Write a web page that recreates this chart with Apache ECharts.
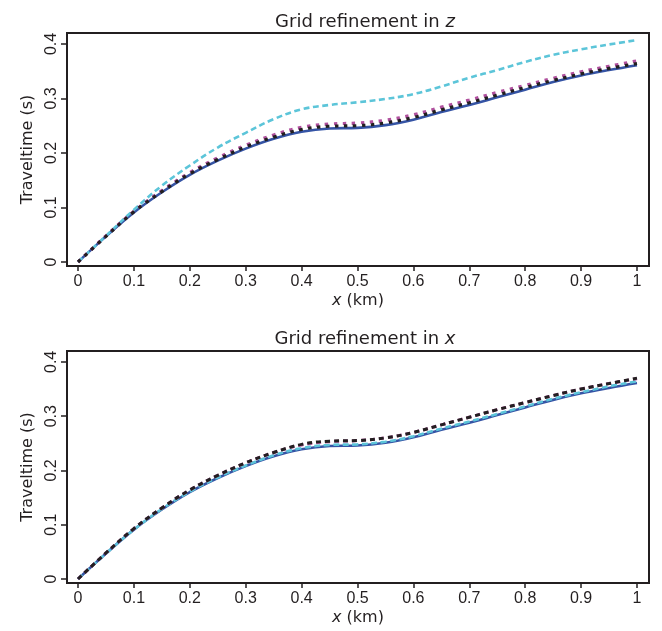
<!DOCTYPE html>
<html>
<head>
<meta charset="utf-8">
<script src="https://cdn.jsdelivr.net/npm/echarts@6/dist/echarts.min.js"></script>
<style>
html,body{margin:0;padding:0;background:#fff;}
#c{width:662px;height:631px;}
</style>
</head>
<body>
<div id="c"></div>
<script>
// ---- data ----
const xs = [0,0.05,0.1,0.15,0.2,0.25,0.3,0.35,0.4,0.45,0.5,0.55,0.6,0.65,0.7,0.75,0.8,0.85,0.9,0.95,1];

// Top panel: grid refinement in z
const blueZ    = [0,0.047,0.091,0.128,0.160,0.186,0.208,0.226,0.239,0.245,0.246,0.251,0.261,0.275,0.288,0.302,0.316,0.330,0.342,0.352,0.361];
const cyanZ    = [0,0.048,0.096,0.140,0.177,0.210,0.237,0.262,0.280,0.288,0.293,0.299,0.308,0.322,0.338,0.352,0.367,0.380,0.390,0.399,0.407];
const magentaZ = [0,0.048,0.093,0.131,0.164,0.191,0.214,0.233,0.247,0.253,0.255,0.260,0.270,0.284,0.297,0.311,0.324,0.337,0.349,0.359,0.369];
const blackZ   = [0,0.047,0.092,0.129,0.162,0.188,0.211,0.229,0.243,0.249,0.250,0.255,0.265,0.279,0.292,0.306,0.320,0.333,0.345,0.355,0.364];

// Bottom panel: grid refinement in x
const blueX    = [0,0.047,0.091,0.128,0.160,0.186,0.208,0.226,0.239,0.245,0.246,0.251,0.261,0.275,0.288,0.302,0.316,0.330,0.342,0.352,0.361];
const cyanX    = [0,0.047,0.091,0.129,0.161,0.187,0.209,0.228,0.241,0.247,0.248,0.253,0.263,0.277,0.290,0.304,0.318,0.332,0.344,0.355,0.364];
const magentaX = [0,0.048,0.093,0.131,0.164,0.191,0.214,0.233,0.247,0.253,0.255,0.260,0.270,0.284,0.298,0.312,0.325,0.338,0.350,0.360,0.369];
const blackX   = [0,0.048,0.093,0.131,0.164,0.191,0.214,0.233,0.248,0.254,0.255,0.260,0.270,0.284,0.298,0.312,0.325,0.338,0.350,0.360,0.370];

const xTicks = [0,0.1,0.2,0.3,0.4,0.5,0.6,0.7,0.8,0.9,1];
const yTicks = [0,0.1,0.2,0.3,0.4];
const titles = ['Grid refinement in ', 'Grid refinement in '];
const titleVars = ['z', 'x'];

// ---- chart ----
const pairs = ys => xs.map((x,i)=>[x, ys[i]]);
const FONT = 'DejaVu Sans';
const TICKFONT = 'Liberation Sans';
const INK = '#231f20';
const C = {blue:'#3554a5', cyan:'#5cc5d9', magenta:'#b0509e', black:'#231f20'};

function xAxisDef(gi){
  return {
    type:'value', gridIndex:gi, min:-0.0197, max:1.0215,
    axisLine:{show:false, onZero:false},
    splitLine:{show:false},
    axisTick:{show:true, customValues:xTicks, length:5, lineStyle:{color:INK, width:1.5}},
    axisLabel:{customValues:xTicks, margin:8, color:INK, fontFamily:TICKFONT, fontSize:16},
    name:'{i|x} (km)', nameLocation:'middle', nameGap:27,
    nameTextStyle:{color:INK, fontFamily:FONT, fontSize:16, rich:{i:{fontStyle:'italic', fontFamily:FONT, fontSize:16, color:INK}}}
  };
}
function yAxisDef(gi){
  return {
    type:'value', gridIndex:gi, min:-0.0073, max:0.42,
    axisLine:{show:false, onZero:false},
    splitLine:{show:false},
    axisTick:{show:true, customValues:yTicks, length:6, lineStyle:{color:INK, width:1.5}},
    axisLabel:{customValues:yTicks, margin:7, rotate:90, color:INK, fontFamily:TICKFONT, fontSize:16},
    name:'Traveltime (s)', nameLocation:'middle', nameGap:29,
    nameTextStyle:{color:INK, fontFamily:FONT, fontSize:16}
  };
}
function ser(gi, ys, color, width, type, z){
  return {
    type:'line', xAxisIndex:gi, yAxisIndex:gi, data:pairs(ys), smooth:0.4,
    showSymbol:false, symbol:'none', z:z,
    lineStyle:{color:color, width:width, type:type, cap:'butt'}
  };
}

const chart = echarts.init(document.getElementById('c'), null, {renderer:'canvas'});
chart.setOption({
  animation:false,
  backgroundColor:'#ffffff',
  title:[
    {text:titles[0]+'{i|'+titleVars[0]+'}', left:360, top:8, textAlign:'center',
     textStyle:{color:INK, fontFamily:FONT, fontSize:18, fontWeight:'normal', rich:{i:{fontStyle:'italic', fontFamily:FONT, fontSize:18, color:INK}}}},
    {text:titles[1]+'{i|'+titleVars[1]+'}', left:360, top:325, textAlign:'center',
     textStyle:{color:INK, fontFamily:FONT, fontSize:18, fontWeight:'normal', rich:{i:{fontStyle:'italic', fontFamily:FONT, fontSize:18, color:INK}}}}
  ],
  grid:[
    {left:67, top:33, width:582, height:233, show:true, borderColor:INK, borderWidth:2, backgroundColor:'transparent'},
    {left:67, top:351, width:582, height:232, show:true, borderColor:INK, borderWidth:2, backgroundColor:'transparent'}
  ],
  xAxis:[xAxisDef(0), xAxisDef(1)],
  yAxis:[yAxisDef(0), yAxisDef(1)],
  series:[
    ser(0, blueZ, C.blue, 2.6, 'solid', 2),
    ser(0, cyanZ, C.cyan, 2.6, [6,3.5], 3),
    ser(0, magentaZ, C.magenta, 3.2, [3.5,5.5], 4),
    ser(0, blackZ, C.black, 3.2, [3.5,5.5], 5),
    ser(1, blueX, C.blue, 2.6, 'solid', 2),
    ser(1, cyanX, C.cyan, 2.6, [6,3.5], 3),
    ser(1, magentaX, C.magenta, 3.0, [5,4], 4),
    ser(1, blackX, C.black, 3.0, [5,4], 5)
  ]
});
</script>
</body>
</html>
